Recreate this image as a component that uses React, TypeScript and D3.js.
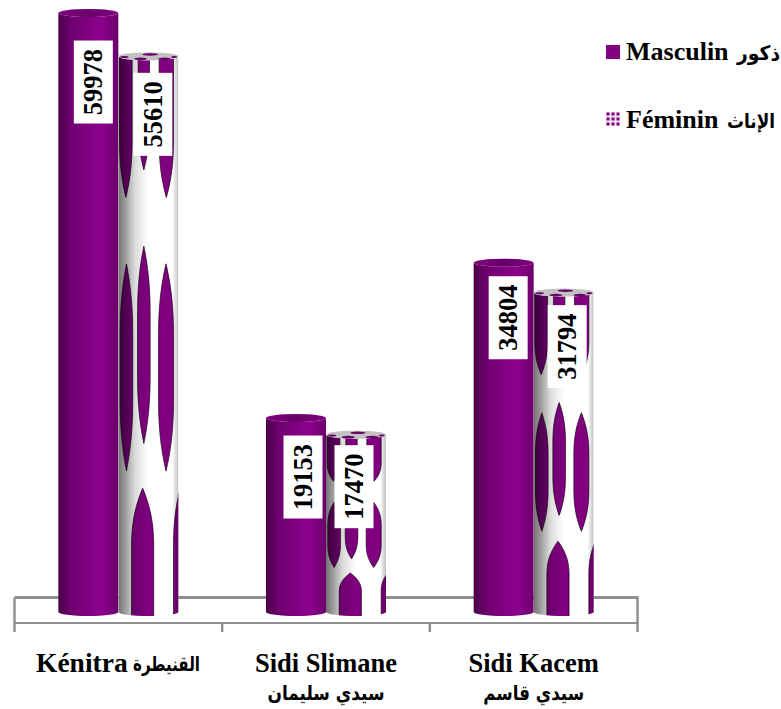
import React from "react";
import * as d3 from "d3";

const categories = ["Kénitra", "Sidi Slimane", "Sidi Kacem"];
const categoriesAr = ["القنيطرة", "سيدي سليمان", "سيدي قاسم"];
const seriesNames = ["Masculin", "Féminin"];
const seriesAr = ["ذكور", "الإناث"];
const masculin = [59978, 19153, 34804];
const feminin = [55610, 17470, 31794];
const yTicks = [0, 60000];

const W = 781, H = 709;
const SERIF = "'Liberation Serif','Times New Roman',serif";
const ARABIC = "'DejaVu Sans',sans-serif";
const PURPLE = "#800080";

const x0 = d3.scaleBand<string>().domain(categories).range([14.5, 637.5]);
const x1 = d3.scaleBand<string>().domain(seriesNames).range([-60, 60]);
const y = d3.scaleLinear().domain(yTicks).range([608, 12.8]);
const RY = 4;

// Nudges of the value boxes relative to the top-centre of each cylinder, [dx, dy]
const labelNudge = [
  [[5, 69], [4.5, 58]],
  [[7, 59], [-2, 52]],
  [[4.5, 55], [3.5, 54]],
];
// Rendered widths of the Arabic strings
const categoriesArWidth = [67, 117, 101];
const seriesArWidth = [43, 48];

type Lens = { a: number; b: number; t: number; e: number; flatTop?: boolean; flatBottom?: boolean };
// Texture stretched over a female cylinder, in unit coordinates of the bar
const texture: Lens[] = [
  { a: 0.02, b: 0.23, t: -0.05, e: 0.25, flatTop: true },
  { a: 0.33, b: 0.52, t: -0.05, e: 0.2, flatTop: true },
  { a: 0.68, b: 0.92, t: -0.05, e: 0.25, flatTop: true },
  { a: 0.03, b: 0.24, t: 0.37, e: 0.745 },
  { a: 0.32, b: 0.53, t: 0.338, e: 0.695 },
  { a: 0.67, b: 0.92, t: 0.37, e: 0.745 },
  { a: 0.22, b: 0.59, t: 0.776, e: 1.08, flatBottom: true },
  { a: 0.92, b: 1.14, t: 0.776, e: 1.08, flatBottom: true },
];

function lensPath(l: Lens, ux: (v: number) => number, uy: (v: number) => number) {
  const p = d3.path();
  const c = (l.a + l.b) / 2;
  const h = l.e - l.t;
  const A = ux(l.a), B = ux(l.b), C = ux(c);
  const cIn = 0.5, c1 = 0.08, c2 = 0.18, mid = 0.34;
  const R = ux(c + (l.b - c) * cIn), L = ux(c - (c - l.a) * cIn);
  if (l.flatTop) {
    p.moveTo(A, uy(l.t));
    p.lineTo(B, uy(l.t));
  } else {
    p.moveTo(C, uy(l.t));
    p.bezierCurveTo(R, uy(l.t + h * c1), B, uy(l.t + h * c2), B, uy(l.t + h * mid));
  }
  if (l.flatBottom) {
    p.lineTo(B, uy(l.e));
    p.lineTo(A, uy(l.e));
  } else {
    p.lineTo(B, uy(l.e - h * mid));
    p.bezierCurveTo(B, uy(l.e - h * c2), R, uy(l.e - h * c1), C, uy(l.e));
    p.bezierCurveTo(L, uy(l.e - h * c1), A, uy(l.e - h * c2), A, uy(l.e - h * mid));
  }
  if (l.flatTop) {
    p.lineTo(A, uy(l.t));
  } else {
    p.lineTo(A, uy(l.t + h * mid));
    p.bezierCurveTo(A, uy(l.t + h * c2), L, uy(l.t + h * c1), C, uy(l.t));
  }
  p.closePath();
  return p.toString();
}

function bodyPath(x: number, w: number, top: number, bottom: number) {
  return `M${x},${top}L${x},${bottom}A${w / 2},${RY} 0 0 0 ${x + w},${bottom}L${x + w},${top}A${w / 2},${RY} 0 0 1 ${x},${top}Z`;
}

function Male({ x, w, top, bottom }: { x: number; w: number; top: number; bottom: number }) {
  return (
    <g>
      <path d={bodyPath(x, w, top, bottom)} fill="url(#maleShade)" />
      <ellipse cx={x + w / 2} cy={top} rx={w / 2} ry={RY} fill="url(#maleCap)" />
    </g>
  );
}

function Female({ i, x, w, top, bottom }: { i: number; x: number; w: number; top: number; bottom: number }) {
  const ux = d3.scaleLinear().domain([0, 1]).range([x, x + w]);
  const uy = d3.scaleLinear().domain([0, 1]).range([top + 3, bottom]);
  const id = `femClip${i}`;
  const capSpots = [
    [0.37, 1, 0.11, 0.34],
    [0.77, 1, 0.11, 0.34],
    [0.53, -1, 0.13, 0.3],
    [0.1, 0.2, 0.07, 0.25],
    [0.93, 0.2, 0.05, 0.25],
  ];
  return (
    <g>
      <clipPath id={id}><path d={bodyPath(x, w, top, bottom)} /></clipPath>
      <g clipPath={`url(#${id})`}>
        <rect x={x} y={top - RY} width={w} height={bottom - top + 2 * RY} fill="#fff" />
        {texture.map((l, k) => (
          <path key={k} d={lensPath(l, ux, uy)} fill={PURPLE} stroke="#1c001c" strokeWidth={0.7} />
        ))}
        <rect x={x} y={top - RY} width={w} height={bottom - top + 2 * RY} fill="url(#femShade)" />
      </g>
      <ellipse cx={x + w / 2} cy={top} rx={w / 2} ry={RY} fill="#c2c2c2" />
      {capSpots.map((s, k) => (
        <ellipse key={k} cx={ux(s[0])} cy={top + s[1] * RY * 0.55 + 0.3} rx={w * s[2]} ry={RY * s[3]} fill="#6a006a" />
      ))}
    </g>
  );
}

export default function App() {
  const baseBottom = y(0) + RY;
  const lineColor = "#8f8f8f";
  const tickPositions = categories.map((c) => x0(c) as number).concat([x0.range()[1]]);
  const backY = 597.5, frontY = 623, tickEnd = 632;
  const bars = categories.map((c, i) => {
    const cx = (x0(c) as number) + x0.bandwidth() / 2;
    return { c, i, cx };
  });
  return (
    <svg width={W} height={H} viewBox={`0 0 ${W} ${H}`} style={{ position: "absolute", left: 0, top: 0, background: "#fff" }}>
      <defs>
        <linearGradient id="maleShade" x1="0" x2="1" y1="0" y2="0">
          <stop offset="0" stopColor="#4a004a" />
          <stop offset="0.22" stopColor="#6f006f" />
          <stop offset="0.5" stopColor="#800080" />
          <stop offset="0.72" stopColor="#8d008d" />
          <stop offset="1" stopColor="#6c006c" />
        </linearGradient>
        <linearGradient id="maleCap" x1="0" x2="1" y1="0" y2="0">
          <stop offset="0" stopColor="#800080" />
          <stop offset="0.5" stopColor="#690069" />
          <stop offset="1" stopColor="#800080" />
        </linearGradient>
        <linearGradient id="femShade" x1="0" x2="1" y1="0" y2="0">
          <stop offset="0" stopColor="#000" stopOpacity="0.55" />
          <stop offset="0.12" stopColor="#000" stopOpacity="0.38" />
          <stop offset="0.28" stopColor="#000" stopOpacity="0.14" />
          <stop offset="0.5" stopColor="#000" stopOpacity="0" />
          <stop offset="0.9" stopColor="#000" stopOpacity="0" />
          <stop offset="1" stopColor="#000" stopOpacity="0.25" />
        </linearGradient>
      </defs>

      <g stroke={lineColor} fill="none">
        <line x1={x0.range()[0]} x2={x0.range()[1] + 1} y1={backY} y2={backY} strokeWidth={3} />
        <line x1={x0.range()[0]} x2={x0.range()[1] + 1} y1={frontY} y2={frontY} strokeWidth={2.2} />
        {tickPositions.map((t, i) => {
          const edge = i === 0 || i === tickPositions.length - 1;
          return <line key={i} x1={t} x2={t} y1={edge ? backY : frontY} y2={tickEnd} strokeWidth={2.4} />;
        })}
      </g>

      {bars.map(({ c, i }) => {
        const g0 = (x0(c) as number) + x0.bandwidth() / 2;
        const w = x1.bandwidth();
        return (
          <g key={c}>
            <Male x={g0 + (x1(seriesNames[0]) as number)} w={w} top={y(masculin[i])} bottom={baseBottom} />
            <Female i={i} x={g0 + (x1(seriesNames[1]) as number)} w={w} top={y(feminin[i])} bottom={baseBottom} />
          </g>
        );
      })}

      {bars.map(({ c, i }) =>
        [masculin[i], feminin[i]].map((v, s) => {
          const g0 = (x0(c) as number) + x0.bandwidth() / 2;
          const cx = g0 + (x1(seriesNames[s]) as number) + x1.bandwidth() / 2 + labelNudge[i][s][0];
          const cy = y(v) + labelNudge[i][s][1];
          return (
            <g key={`${c}${s}`} transform={`translate(${cx},${cy})`}>
              <rect x={-19.5} y={-41.5} width={39} height={83} fill="#fff" />
              <text transform="rotate(-90)" textAnchor="middle" y={9} fontFamily={SERIF} fontWeight="700" fontSize={26.5} fill="#000">
                {v}
              </text>
            </g>
          );
        })
      )}

      {bars.map(({ c, i, cx }) =>
        i === 0 ? (
          <g key={c} fontWeight="700" fill="#000">
            <text x={36} y={672} fontFamily={SERIF} fontSize={27.5}>{c}</text>
            <text x={133} y={671} fontFamily={ARABIC} fontSize={20} textLength={categoriesArWidth[i]} lengthAdjust="spacingAndGlyphs">{categoriesAr[i]}</text>
          </g>
        ) : (
          <g key={c} fontWeight="700" fill="#000">
            <text x={cx} y={672} textAnchor="middle" fontFamily={SERIF} fontSize={26.5}>{c}</text>
            <text x={cx - categoriesArWidth[i] / 2} y={700} fontFamily={ARABIC} fontSize={20} textLength={categoriesArWidth[i]} lengthAdjust="spacingAndGlyphs">{categoriesAr[i]}</text>
          </g>
        )
      )}

      <g fontWeight="700" fill="#000">
        <rect x={606} y={45} width={14} height={14} fill={PURPLE} />
        <text x={626} y={60} fontFamily={SERIF} fontSize={26}>{seriesNames[0]}</text>
        <text x={737} y={60} fontFamily={ARABIC} fontSize={20} textLength={seriesArWidth[0]} lengthAdjust="spacingAndGlyphs">{seriesAr[0]}</text>
        <g>
          <rect x={606} y={112} width={14} height={14} fill="#eee6ee" />
          {[0, 1, 2].flatMap((a) => [0, 1, 2].map((b) => (
            <rect key={`${a}${b}`} x={606.5 + a * 5} y={112.5 + b * 5} width={3} height={3} fill={PURPLE} />
          )))}
        </g>
        <text x={626} y={128} fontFamily={SERIF} fontSize={26}>{seriesNames[1]}</text>
        <text x={727} y={128} fontFamily={ARABIC} fontSize={20} textLength={seriesArWidth[1]} lengthAdjust="spacingAndGlyphs">{seriesAr[1]}</text>
      </g>
    </svg>
  );
}
